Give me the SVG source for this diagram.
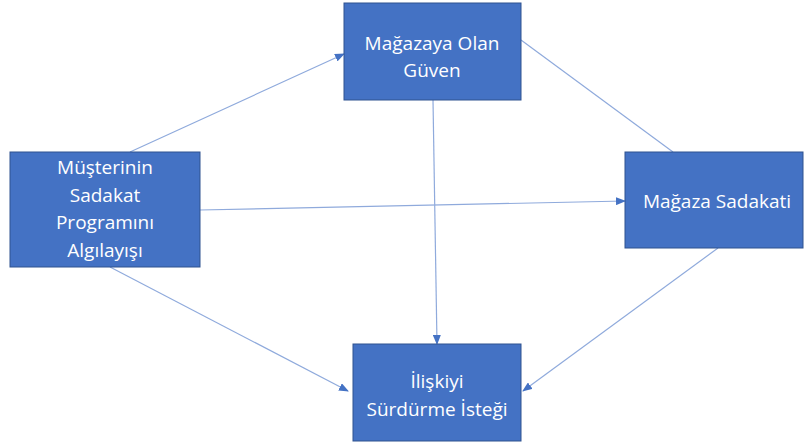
<svg xmlns="http://www.w3.org/2000/svg" width="804" height="447" viewBox="0 0 804 447">
<style>
.box{fill:#4472C4;stroke:#2F528F;stroke-width:1}
.t{fill:#fff;font-family:"Open Sans","Liberation Sans",sans-serif;font-size:19px;text-anchor:middle;dominant-baseline:central}
.c{stroke:#8FAADC;stroke-width:1.2;fill:none}
</style>
<defs>
<marker id="a" markerWidth="10" markerHeight="8" refX="9" refY="4" orient="auto" markerUnits="userSpaceOnUse">
<path d="M0,0 L10,4 L0,8 Z" fill="#4472C4"/>
</marker>
</defs>
<rect width="804" height="447" fill="#fff"/>
<g id="connectors">
<line class="c" x1="130" y1="152" x2="344" y2="54" marker-end="url(#a)"/>
<line class="c" x1="200" y1="210" x2="625" y2="201" marker-end="url(#a)"/>
<line class="c" x1="110" y1="267" x2="348" y2="391" marker-end="url(#a)"/>
<line class="c" x1="433" y1="100" x2="437" y2="344" marker-end="url(#a)"/>
<line class="c" x1="521" y1="40" x2="673" y2="152"/>
<line class="c" x1="718" y1="248" x2="523" y2="391" marker-end="url(#a)"/>
</g>
<g id="n1">
<rect class="box" x="10" y="152" width="190" height="115"/>
<text class="t" x="105" y="167">Müşterinin</text>
<text class="t" x="105" y="195">Sadakat</text>
<text class="t" x="105" y="222">Programını</text>
<text class="t" x="105" y="250">Algılayışı</text>
</g>
<g id="n2">
<rect class="box" x="344" y="3" width="177" height="97"/>
<text class="t" x="432" y="43">Mağazaya Olan</text>
<text class="t" x="432" y="70">Güven</text>
</g>
<g id="n3">
<rect class="box" x="625" y="152" width="178" height="96"/>
<text class="t" x="717" y="201">Mağaza Sadakati</text>
</g>
<g id="n4">
<rect class="box" x="353" y="344" width="168" height="97"/>
<text class="t" x="437" y="381">İlişkiyi</text>
<text class="t" x="437" y="409">Sürdürme İsteği</text>
</g>
</svg>
